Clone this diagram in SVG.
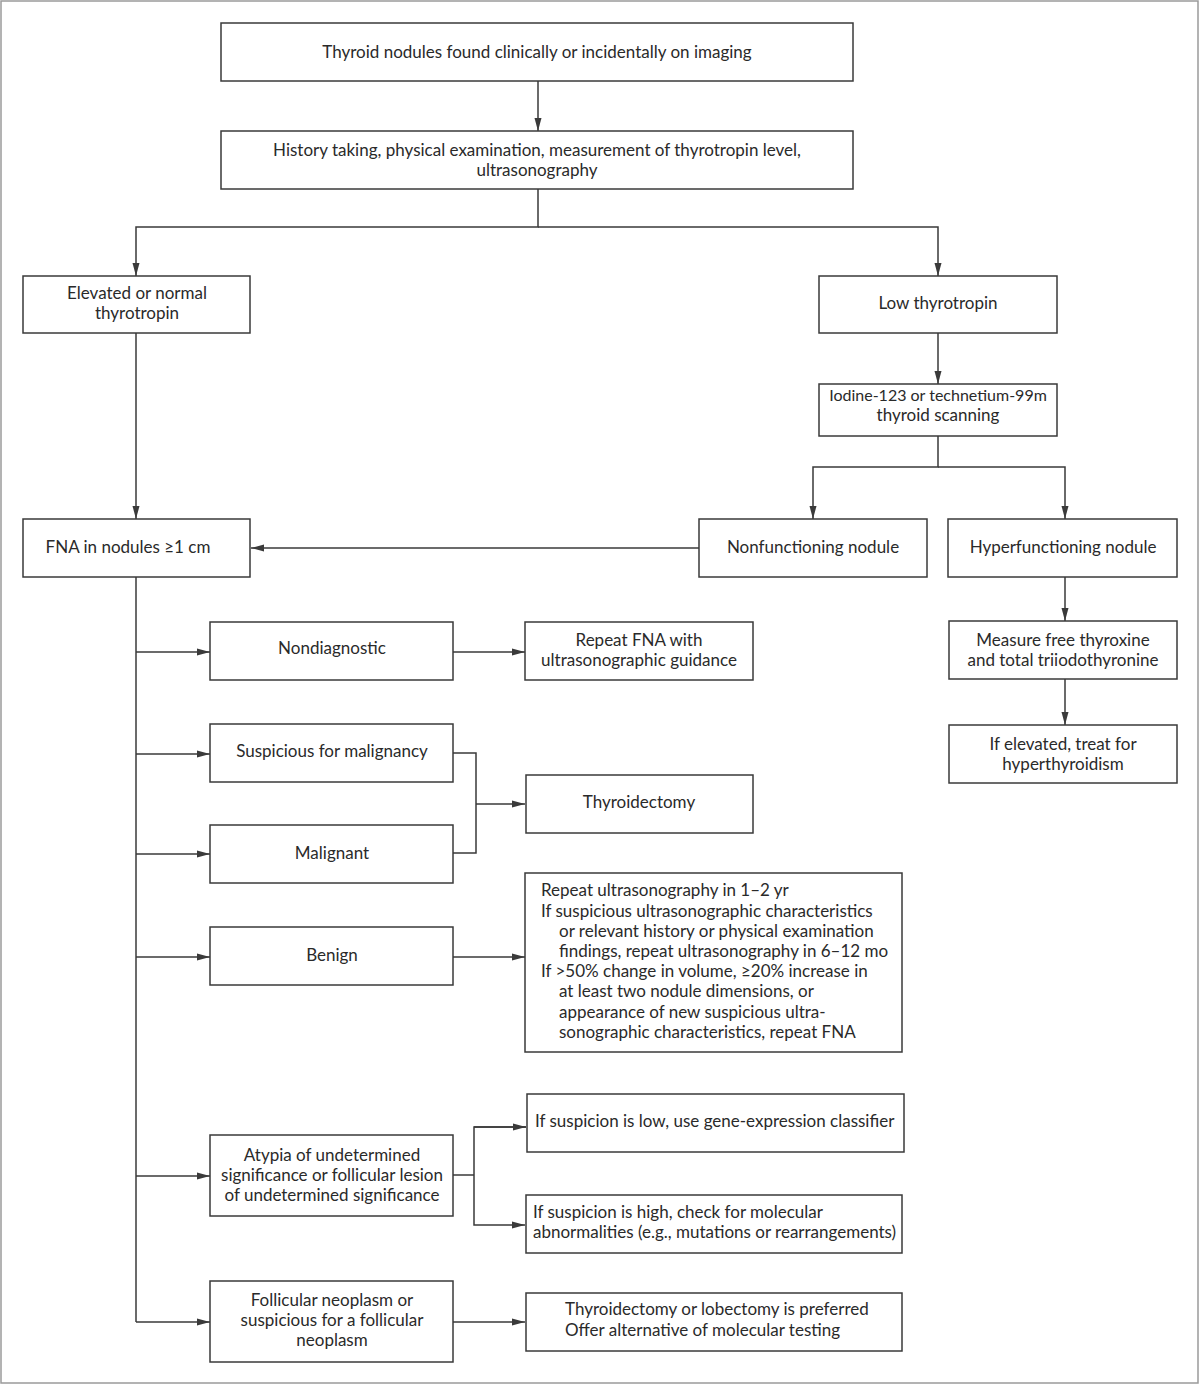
<svg xmlns="http://www.w3.org/2000/svg" width="1200" height="1385" viewBox="0 0 1200 1385">
<style>
.box{fill:#fff;stroke:#3a3a3a;stroke-width:1.5}
.t{font-family:Lato,"Liberation Sans",sans-serif;font-size:17px;fill:#2a2a2a;text-anchor:middle}
.l{text-anchor:start}
.c{fill:none;stroke:#3a3a3a;stroke-width:1.5}
</style>
<defs>
<marker id="a" viewBox="0 0 13 8" refX="13" refY="4" markerWidth="13" markerHeight="8" markerUnits="userSpaceOnUse" orient="auto">
<path d="M0,0.5 L13,4 L0,7.5 Z" fill="#3a3a3a"/>
</marker>
</defs>
<rect x="1" y="1" width="1197" height="1382" fill="#fff" stroke="#9a9a9a" stroke-width="1.5"/>
<g id="connectors">
<path class="c" d="M538,81 V131" marker-end="url(#a)"/>
<path class="c" d="M538,189 V227 H136 V276" marker-end="url(#a)"/>
<path class="c" d="M538,227 H938 V276" marker-end="url(#a)"/>
<path class="c" d="M938,333 V384" marker-end="url(#a)"/>
<path class="c" d="M938,436 V467 H813 V519" marker-end="url(#a)"/>
<path class="c" d="M938,467 H1065 V519" marker-end="url(#a)"/>
<path class="c" d="M699,548 H251" marker-end="url(#a)"/>
<path class="c" d="M136,333 V519" marker-end="url(#a)"/>
<path class="c" d="M1065,577 V621" marker-end="url(#a)"/>
<path class="c" d="M1065,679 V725" marker-end="url(#a)"/>
<path class="c" d="M136,577 V1322"/>
<path class="c" d="M136,652 H210" marker-end="url(#a)"/>
<path class="c" d="M136,754 H210" marker-end="url(#a)"/>
<path class="c" d="M136,854 H210" marker-end="url(#a)"/>
<path class="c" d="M136,957 H210" marker-end="url(#a)"/>
<path class="c" d="M136,1176 H210" marker-end="url(#a)"/>
<path class="c" d="M136,1322 H210" marker-end="url(#a)"/>
<path class="c" d="M453,652 H525" marker-end="url(#a)"/>
<path class="c" d="M453,753 H476 V853 H453"/>
<path class="c" d="M476,804 H525" marker-end="url(#a)"/>
<path class="c" d="M453,957 H525" marker-end="url(#a)"/>
<path class="c" d="M453,1175 H474"/>
<path class="c" d="M526,1127 H474 V1225 H525" marker-end="url(#a)"/>
<path class="c" d="M474,1127 H526" marker-end="url(#a)"/>
<path class="c" d="M453,1322 H525" marker-end="url(#a)"/>
</g>
<g id="n1"><rect class="box" x="221" y="23" width="632" height="58"/><text class="t" x="537" y="58">Thyroid nodules found clinically or incidentally on imaging</text></g>
<g id="n2"><rect class="box" x="221" y="131" width="632" height="58"/><text class="t" x="537" y="156">History taking, physical examination, measurement of thyrotropin level,</text><text class="t" x="537" y="176">ultrasonography</text></g>
<g id="n3"><rect class="box" x="23" y="276" width="227" height="57"/><text class="t" x="137" y="299">Elevated or normal</text><text class="t" x="137" y="319">thyrotropin</text></g>
<g id="n4"><rect class="box" x="819" y="276" width="238" height="57"/><text class="t" x="938" y="309">Low thyrotropin</text></g>
<g id="n5"><rect class="box" x="819" y="384" width="238" height="52"/><text class="t" x="938" y="401" style="font-size:16px">Iodine-123 or technetium-99m</text><text class="t" x="938" y="421">thyroid scanning</text></g>
<g id="n6"><rect class="box" x="699" y="519" width="228" height="58"/><text class="t" x="813" y="553">Nonfunctioning nodule</text></g>
<g id="n7"><rect class="box" x="948" y="519" width="229" height="58"/><text class="t" x="1063" y="553">Hyperfunctioning nodule</text></g>
<g id="n8"><rect class="box" x="23" y="519" width="227" height="58"/><text class="t" x="128" y="553">FNA in nodules ≥1 cm</text></g>
<g id="n9"><rect class="box" x="949" y="621" width="228" height="58"/><text class="t" x="1063" y="646">Measure free thyroxine</text><text class="t" x="1063" y="666">and total triiodothyronine</text></g>
<g id="n10"><rect class="box" x="949" y="725" width="228" height="58"/><text class="t" x="1063" y="750">If elevated, treat for</text><text class="t" x="1063" y="770">hyperthyroidism</text></g>
<g id="n11"><rect class="box" x="210" y="622" width="243" height="58"/><text class="t" x="332" y="654">Nondiagnostic</text></g>
<g id="n12"><rect class="box" x="525" y="622" width="228" height="58"/><text class="t" x="639" y="646">Repeat FNA with</text><text class="t" x="639" y="666">ultrasonographic guidance</text></g>
<g id="n13"><rect class="box" x="210" y="724" width="243" height="58"/><text class="t" x="332" y="757">Suspicious for malignancy</text></g>
<g id="n14"><rect class="box" x="210" y="825" width="243" height="58"/><text class="t" x="332" y="859">Malignant</text></g>
<g id="n15"><rect class="box" x="526" y="775" width="227" height="58"/><text class="t" x="639" y="808">Thyroidectomy</text></g>
<g id="n16"><rect class="box" x="210" y="927" width="243" height="58"/><text class="t" x="332" y="961">Benign</text></g>
<g id="n17"><rect class="box" x="525" y="873" width="377" height="179"/>
<text class="t l" x="541" y="896">Repeat ultrasonography in 1–2 yr</text>
<text class="t l" x="541" y="917">If suspicious ultrasonographic characteristics</text>
<text class="t l" x="559" y="937">or relevant history or physical examination</text>
<text class="t l" x="559" y="957">findings, repeat ultrasonography in 6–12 mo</text>
<text class="t l" x="541" y="977">If &gt;50% change in volume, ≥20% increase in</text>
<text class="t l" x="559" y="997">at least two nodule dimensions, or</text>
<text class="t l" x="559" y="1018">appearance of new suspicious ultra-</text>
<text class="t l" x="559" y="1038">sonographic characteristics, repeat FNA</text>
</g>
<g id="n18"><rect class="box" x="210" y="1135" width="243" height="81"/><text class="t" x="332" y="1161">Atypia of undetermined</text><text class="t" x="332" y="1181">significance or follicular lesion</text><text class="t" x="332" y="1201">of undetermined significance</text></g>
<g id="n19"><rect class="box" x="527" y="1094" width="377" height="58"/><text class="t l" x="535" y="1127">If suspicion is low, use gene-expression classifier</text></g>
<g id="n20"><rect class="box" x="526" y="1195" width="376" height="58"/><text class="t l" x="533" y="1218">If suspicion is high, check for molecular</text><text class="t l" x="533" y="1238">abnormalities (e.g., mutations or rearrangements)</text></g>
<g id="n21"><rect class="box" x="210" y="1281" width="243" height="81"/><text class="t" x="332" y="1306">Follicular neoplasm or</text><text class="t" x="332" y="1326">suspicious for a follicular</text><text class="t" x="332" y="1346">neoplasm</text></g>
<g id="n22"><rect class="box" x="526" y="1293" width="376" height="58"/><text class="t l" x="565" y="1315">Thyroidectomy or lobectomy is preferred</text><text class="t l" x="565" y="1336">Offer alternative of molecular testing</text></g>
</svg>
